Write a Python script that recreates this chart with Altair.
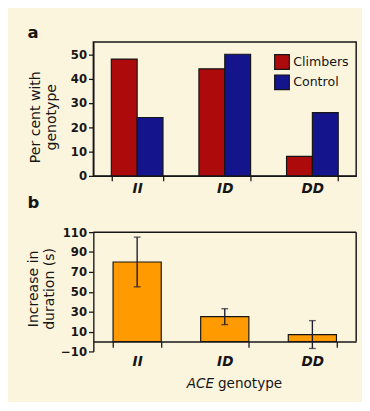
import altair as alt
import pandas as pd

genotypes = ["II", "ID", "DD"]
groups = ["Climbers", "Control"]
climbers_pct = [48, 44, 8]
control_pct = [24, 50, 26]

increase = [80, 25, 7]
err_low = [55, 17, -7]
err_high = [105, 33, 21]

a_ticks = [0, 10, 20, 30, 40, 50]
b_ticks = [-10, 10, 30, 50, 70, 90, 110]

RED = "#ad0a0c"
BLUE = "#14148c"
ORANGE = "#ff9a00"
INK = "#161616"
BG = "#fcf5de"
FONT = "DejaVu Sans"

W = 271
HA = 138
HB = 123

rows = []
for g, c, k in zip(genotypes, climbers_pct, control_pct):
    rows.append({"genotype": g, "group": "Climbers", "pct": c})
    rows.append({"genotype": g, "group": "Control", "pct": k})
df_a = pd.DataFrame(rows)

df_b = pd.DataFrame({"genotype": genotypes, "inc": increase, "lo": err_low, "hi": err_high})


def x_axis(offset=0, tick=5, pad=1):
    return alt.Axis(title=None, labelFont=FONT, labelFontSize=14, labelFontWeight="bold",
                    labelFontStyle="italic", labelAngle=0, tickBand="extent", tickSize=tick,
                    labelPadding=pad, offset=offset, domainColor=INK, tickColor=INK,
                    labelColor=INK, domainWidth=1.4, tickWidth=1.3, labelBaseline="top")


def y_axis(vals, title, tx, ty):
    return alt.Axis(values=vals, title=title, titleFont=FONT, titleFontSize=14.5,
                    titleFontWeight="normal", titleLineHeight=16.5, titleX=tx, titleY=ty,
                    titleAngle=-90, titleBaseline="bottom", titleAlign="center",
                    labelFont=FONT, labelFontSize=12, labelFontWeight="bold",
                    labelOverlap=False, tickSize=5, labelPadding=2, domainColor=INK,
                    tickColor=INK, labelColor=INK, titleColor=INK, domainWidth=1.4,
                    tickWidth=1.3, grid=False)


one = alt.Data(values=[{"k": 1}])


def panel_label(txt, y):
    return alt.Chart(one).mark_text(text=txt, font=FONT, fontSize=17, fontWeight="bold",
                                    align="left", baseline="bottom", color=INK).encode(
        x=alt.value(-68), y=alt.value(y))


bars_a = alt.Chart(df_a).mark_bar(stroke=INK, strokeWidth=1.2).encode(
    x=alt.X("genotype:N", sort=genotypes,
            scale=alt.Scale(paddingInner=0.41, paddingOuter=0.205), axis=x_axis()),
    xOffset=alt.XOffset("group:N", sort=groups,
                        scale=alt.Scale(paddingInner=0, paddingOuter=0)),
    y=alt.Y("pct:Q", scale=alt.Scale(domain=[0, 55], nice=False),
            axis=y_axis(a_ticks, ["Per cent with", "genotype"], -52, 77)),
    color=alt.Color("group:N", sort=groups,
                    scale=alt.Scale(domain=groups, range=[RED, BLUE]),
                    legend=alt.Legend(title=None, orient="none", legendX=186, legendY=12,
                                      symbolType="square", symbolSize=230,
                                      symbolStrokeColor=INK, symbolStrokeWidth=1.2,
                                      labelFont=FONT, labelFontSize=13, labelColor=INK,
                                      labelOffset=3, rowPadding=0, padding=0)),
)

panel_a = alt.layer(bars_a, panel_label("a", 0)).properties(
    width=W, height=HA,
    view=alt.ViewBackground(stroke=INK, strokeWidth=1.5),
)

yscale_b = alt.Scale(domain=[-10, 110], nice=False)
yax_b = y_axis(b_ticks, ["Increase in", "duration (s)"], -55, 58)
xb = alt.X("genotype:N", sort=genotypes,
           scale=alt.Scale(paddingInner=0.45, paddingOuter=0.225),
           axis=x_axis(offset=-HB * 10 / 120, tick=6, pad=8))

base_b = alt.Chart(df_b)
bars_b = base_b.mark_bar(color=ORANGE, stroke=INK, strokeWidth=1.2).encode(
    x=xb,
    y=alt.Y("inc:Q", scale=yscale_b, axis=yax_b),
    y2=alt.datum(0),
)
err = base_b.mark_rule(color="#1c1c30", strokeWidth=1.4).encode(
    x=xb, y=alt.Y("lo:Q", scale=yscale_b, axis=yax_b), y2="hi:Q")
cap_hi = base_b.mark_tick(color="#1c1c30", thickness=1.4, size=7, orient="horizontal").encode(
    x=xb, y=alt.Y("hi:Q", scale=yscale_b, axis=yax_b))
cap_lo = base_b.mark_tick(color="#1c1c30", thickness=1.4, size=7, orient="horizontal").encode(
    x=xb, y=alt.Y("lo:Q", scale=yscale_b, axis=yax_b))

top_border = alt.Chart(one).mark_rule(color=INK, strokeWidth=1.5).encode(
    x=alt.value(0), x2=alt.value(W),
    y=alt.YDatum(110, type="quantitative", scale=yscale_b, axis=yax_b))
right_border = alt.Chart(one).mark_rule(color=INK, strokeWidth=1.5).encode(
    x=alt.value(W),
    y=alt.YDatum(110, type="quantitative", scale=yscale_b, axis=yax_b),
    y2=alt.datum(0))
ace = alt.Chart(one).mark_text(text="ACE", font=FONT, fontSize=14, fontStyle="italic",
                               align="right", baseline="middle", color=INK).encode(
    x=alt.value(W / 2 - 11), y=alt.value(HB + 34))
geno = alt.Chart(one).mark_text(text="genotype", font=FONT, fontSize=14,
                                align="left", baseline="middle", color=INK).encode(
    x=alt.value(W / 2 - 7), y=alt.value(HB + 34))

panel_b = alt.layer(bars_b, err, cap_hi, cap_lo, top_border, right_border, ace, geno,
                    panel_label("b", -21)).properties(
    width=W, height=HB,
    view=alt.ViewBackground(stroke=None),
)

chart = alt.vconcat(panel_a, panel_b, spacing=58, bounds="flush").properties(
    padding={"left": 18, "top": 10, "right": 5, "bottom": 5},
    background=BG,
).configure_view(stroke=None)

chart.save("out.html", embed_options={"renderer": "svg", "actions": False})
